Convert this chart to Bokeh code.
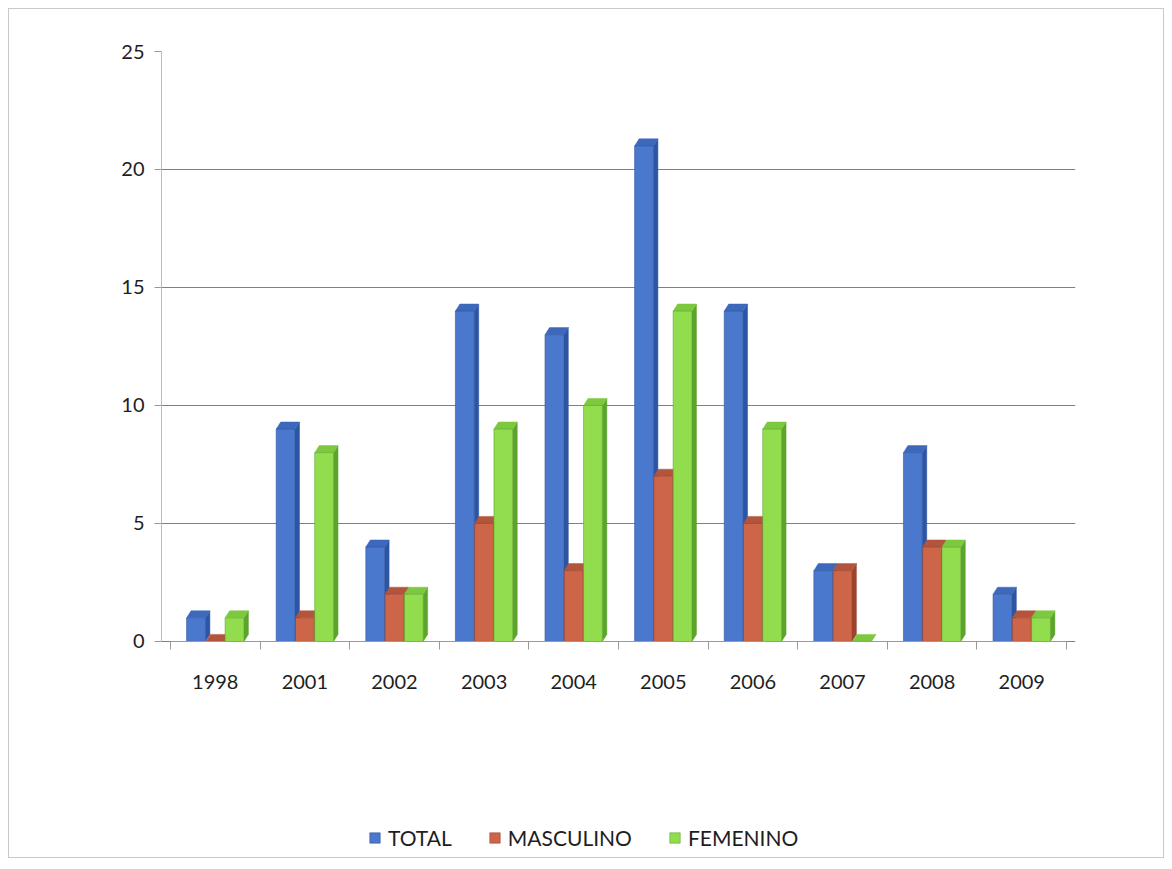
import numpy as np
from bokeh.plotting import figure
from bokeh.models import FixedTicker, Legend, LegendItem, Range1d
from bokeh.embed import file_html
from bokeh.resources import INLINE

# ---- data ----
years = ["1998", "2001", "2002", "2003", "2004", "2005", "2006", "2007", "2008", "2009"]
total = [1, 9, 4, 14, 13, 21, 14, 3, 8, 2]
masculino = [0, 1, 2, 5, 3, 7, 5, 3, 4, 1]
femenino = [1, 8, 2, 9, 10, 14, 9, 0, 4, 1]
series_names = ["TOTAL", "MASCULINO", "FEMENINO"]
y_ticks = [0, 5, 10, 15, 20, 25]

# ---- style ----
FONT = "Lato"
front_colors = ["#4a78cc", "#cd6549", "#92dd4e"]
side_colors = ["#2d55a3", "#9c432f", "#5ca42c"]
top_colors = ["#3d68bb", "#b3543c", "#7cc83e"]
bar_w = 0.21
offsets = [-0.215, 0.0, 0.215]
dx, dy = 0.05, 0.3

x = np.arange(len(years))

# the frame reaches down to the bottom so the legend can sit in it;
# the value axis and grid only cover 0..25
p = figure(width=1156, height=850, output_backend="svg", toolbar_location=None,
           x_range=Range1d(-0.6, 9.6), y_range=Range1d(-8.9, 25),
           min_border_left=152, min_border_top=42, min_border_right=90,
           min_border_bottom=8)
p.margin = (8, 8, 8, 8)
p.styles = {"border": "1px solid #c9c9c9"}
p.outline_line_color = None
p.background_fill_color = "white"
p.border_fill_color = "white"

bar_renderers = []
for s, vals in enumerate([total, masculino, femenino]):
    cx = x + offsets[s]
    v = np.array(vals, dtype=float)
    left = cx - bar_w / 2
    right = cx + bar_w / 2
    side_xs = [[r, r + dx, r + dx, r] for r in right]
    side_ys = [[0, dy, h + dy, h] for h in v]
    top_xs = [[l, l + dx, r + dx, r] for l, r in zip(left, right)]
    top_ys = [[h, h + dy, h + dy, h] for h in v]
    p.patches(side_xs, side_ys, fill_color=side_colors[s], line_color=side_colors[s], line_width=0.5)
    p.patches(top_xs, top_ys, fill_color=top_colors[s], line_color=top_colors[s], line_width=0.5)
    r = p.vbar(x=cx, top=v, bottom=0, width=bar_w, fill_color=front_colors[s],
               line_color=side_colors[s], line_width=0.6)
    bar_renderers.append(r)

# value axis
p.yaxis.ticker = FixedTicker(ticks=y_ticks)
p.yaxis.bounds = (0, 25)
p.yaxis.major_label_text_font = FONT
p.yaxis.major_label_text_font_size = "20px"
p.yaxis.major_label_text_color = "#1e1e1e"
p.yaxis.axis_line_color = "#bdbdbd"
p.yaxis.major_tick_line_color = "#9a9a9a"
p.yaxis.major_tick_out = 7
p.yaxis.major_tick_in = 0
p.yaxis.minor_tick_line_color = None
p.yaxis.major_label_standoff = 10

# category axis sits at value 0
p.xaxis.fixed_location = 0
p.xaxis.bounds = (-0.5, 9.5)
p.xaxis.ticker = FixedTicker(ticks=[float(i) for i in x],
                             minor_ticks=[i + 0.5 for i in range(-1, len(years))])
p.xaxis.major_label_overrides = {float(i): yr for i, yr in zip(x, years)}
p.xaxis.major_label_text_font = FONT
p.xaxis.major_label_text_font_size = "20px"
p.xaxis.major_label_text_color = "#1e1e1e"
p.xaxis.major_label_standoff = 26
p.xaxis.major_tick_line_color = None
p.xaxis.minor_tick_line_color = "#9a9a9a"
p.xaxis.minor_tick_out = 8
p.xaxis.minor_tick_in = 0
p.xaxis.axis_line_color = "#9a9a9a"

p.xgrid.grid_line_color = None
p.ygrid.ticker = FixedTicker(ticks=y_ticks)
p.ygrid.grid_line_color = "#808080"
p.ygrid.grid_line_width = 1

legend = Legend(items=[LegendItem(label=n, renderers=[r]) for n, r in zip(series_names, bar_renderers)],
                orientation="horizontal", location=(207, 1))
legend.label_text_font = FONT
legend.label_text_font_size = "21px"
legend.label_text_color = "#1e1e1e"
legend.glyph_width = 13
legend.glyph_height = 13
legend.spacing = 36
legend.label_standoff = 7
legend.padding = 8
legend.border_line_color = None
legend.background_fill_alpha = 0
p.add_layout(legend, "center")

open("out.html", "w").write(file_html(p, INLINE))
